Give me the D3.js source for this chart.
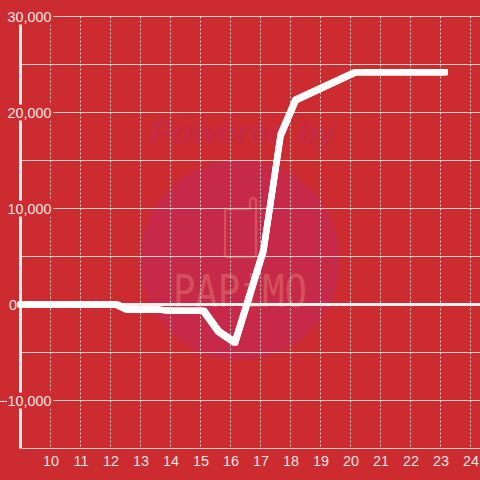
<!DOCTYPE html>
<html><head><meta charset="utf-8">
<script src="https://cdn.jsdelivr.net/npm/d3@7"></script>
<style>html,body{margin:0;padding:0;background:#cc2b2f}svg{display:block}text{font-family:"Liberation Sans",Arial,sans-serif}</style>
</head><body>
<svg id="c" width="480" height="480"></svg>
<script>
const xTicks = [10,11,12,13,14,15,16,17,18,19,20,21,22,23,24];
const yGrid = [30000,25000,20000,15000,10000,5000,0,-5000,-10000,-15000];
const yLabelled = [30000,20000,10000,0,-10000];
const hours = [9,12.2,12.55,13.55,14,15.1,15.6,16.15,17.1,17.67,18.17,20.17,23.15];
const values = [0,0,-520,-520,-640,-640,-2800,-3970,5640,17640,21300,24200,24200];

const svg = d3.select("#c");
const x = d3.scaleLinear().domain([10,24]).range([50.5,470.5]);
const y = d3.scaleLinear().domain([30000,-15000]).range([16.5,448.5]);
const ink = "#f7e6e6", gridCol = "#d6cfcb";

// watermark
const wm = svg.append("g");
wm.append("circle").attr("cx",240).attr("cy",260).attr("r",100).attr("fill","#c62a48");
wm.append("text").attr("x",243).attr("y",143).attr("text-anchor","middle")
  .attr("font-size",32).attr("font-weight","bold").attr("font-style","italic")
  .attr("textLength",186).attr("lengthAdjust","spacingAndGlyphs").attr("fill","#c62a45").text("Powered by");
wm.append("path").attr("d","M225 209H250V201a3 3 0 0 1 6 0V255a2 2 0 0 1-2 2H227a2 2 0 0 1-2-2Z")
  .attr("fill","none").attr("stroke","#d4505c").attr("stroke-width",2.4);
wm.append("text").attr("x",240).attr("y",307).attr("text-anchor","middle")
  .attr("font-size",44).attr("textLength",134).attr("lengthAdjust","spacingAndGlyphs")
  .style("font-family","'DejaVu Sans Mono'").attr("fill","#d4505c")
  .text("PAPiMO");

// grid
svg.append("g").selectAll("line").data(yGrid).join("line")
  .attr("x1",22).attr("x2",480).attr("y1",d=>y(d)).attr("y2",d=>y(d))
  .attr("stroke",d=>d===0?"#f7f0ee":gridCol).attr("stroke-width",d=>d===0?3:1);
svg.append("g").selectAll("line").data(xTicks).join("line")
  .attr("x1",d=>x(d)).attr("x2",d=>x(d)).attr("y1",y(30000)).attr("y2",y(-15000))
  .attr("stroke",gridCol).attr("stroke-width",1).attr("stroke-dasharray","2,2");

// y axis line
svg.append("line").attr("x1",20.5).attr("x2",20.5).attr("y1",y(30000)).attr("y2",y(-15000))
  .attr("stroke","#f4eeec").attr("stroke-width",3);

// y labels with background
const fmt = d3.format(",");
const yl = svg.append("g").selectAll("g").data(yLabelled).join("g")
  .attr("transform",d=>`translate(${d===0?17:51.5},${y(d)})`);
yl.append("text").attr("text-anchor","end").attr("dy","0.36em").attr("font-size",14.4).attr("fill",ink)
  .text(d=>fmt(d));
yl.each(function(){
  const g=d3.select(this), b=g.select("text").node().getBBox();
  g.insert("rect","text").attr("x",b.x-2).attr("width",b.width+4).attr("y",-8).attr("height",16).attr("fill","#cc2b2f");
});

// x labels
svg.append("g").selectAll("text").data(xTicks).join("text")
  .attr("x",d=>x(d)+0.5).attr("y",466).attr("text-anchor","middle").attr("font-size",14.4).attr("fill",ink).text(d=>d);

// series: stamped with a square 6px nib, so sloped runs read thicker than flat ones
const line = d3.line().x(d=>x(d[0])).y(d=>y(d[1]));
const pts = d3.zip(hours,values);
const nib = [-2,-1,0,1,2];
const series = svg.append("g");
nib.forEach(dx=>nib.forEach(dy=>{
  series.append("path").datum(pts).attr("d",line).attr("transform",`translate(${dx},${dy})`)
    .attr("fill","none").attr("stroke","#fff").attr("stroke-width",2)
    .attr("stroke-linejoin","round").attr("stroke-linecap","square");
}));
</script>
</body></html>
